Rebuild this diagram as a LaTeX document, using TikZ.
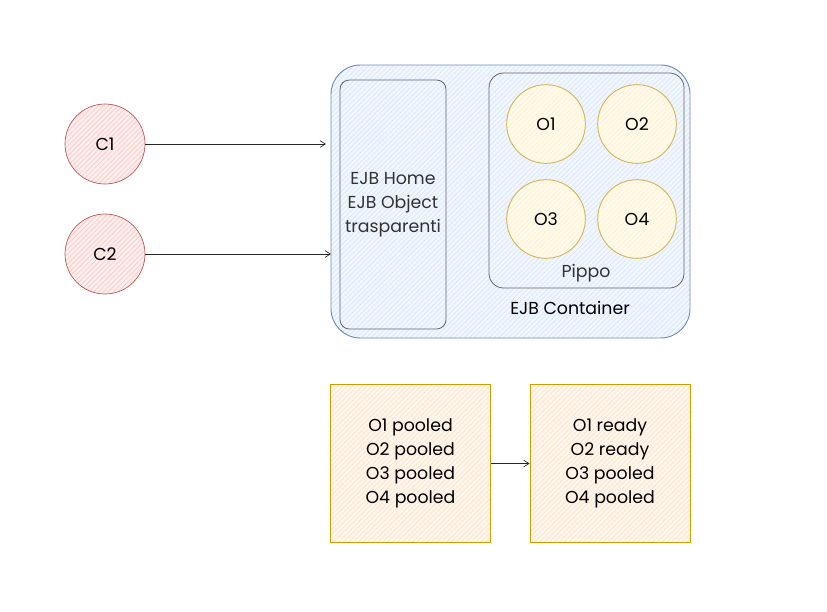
\documentclass[tikz,border=0pt]{standalone}
\usepackage{fontspec}
\setmainfont{Poppins}
\usetikzlibrary{arrows.meta,patterns.meta}
\definecolor{blueS}{HTML}{6C8EBF}
\definecolor{blueF}{HTML}{DAE8FC}
\definecolor{grayS}{HTML}{666666}
\definecolor{redS}{HTML}{B85450}
\definecolor{redF}{HTML}{F8CECC}
\definecolor{yelS}{HTML}{D6B656}
\definecolor{yelF}{HTML}{FFF2CC}
\definecolor{orS}{HTML}{D79B00}
\definecolor{orF}{HTML}{FFE6CC}
\definecolor{txt}{HTML}{333333}
\tikzset{
  every node/.style={font=\fontsize{13}{18}\selectfont},
  hatch/.style={preaction={fill=#1!35}, pattern={Lines[angle=45,distance=2.6pt,line width=0.6pt]}, pattern color=#1},
  client/.style={circle, draw=redS, hatch=redF, minimum size=60pt, inner sep=0pt, line width=0.5pt},
  obj/.style={circle, draw=yelS, hatch=yelF, minimum size=59pt, inner sep=0pt, line width=0.7pt},
  state/.style={draw=orS, hatch=orF, minimum width=120pt, minimum height=119pt, align=center, line width=0.6pt},
  conn/.style={-{Straight Barb[length=4pt,width=5pt]}, line width=0.5pt, black!85},
  lbl/.style={text=txt, align=center}
}
\begin{document}
\begin{tikzpicture}[x=0.75pt,y=-0.75pt]
\useasboundingbox (0,0) rectangle (827,611);
% container
\draw[draw=blueS, hatch=blueF, rounded corners=22pt, line width=0.7pt] (331,65) rectangle (690,338);
\node[lbl, text=black] (cont) at (570,308) {EJB Container};
% EJB home box
\draw[draw=grayS, hatch=blueF, rounded corners=7pt, line width=0.6pt] (340,80) rectangle (446,329);
\node[lbl] (home) at (393,205) {EJB Home\\EJB Object\\trasparenti};
\coordinate (homeA) at (326,144);
\coordinate (homeB) at (331,254);
% Pippo box
\draw[draw=grayS, hatch=blueF, rounded corners=11pt, line width=0.6pt] (489,73) rectangle (684,288);
\node[lbl] (pippo) at (586,273) {Pippo};
% objects
\node[obj] (o1) at (546,124) {O1};
\node[obj] (o2) at (637,124) {O2};
\node[obj] (o3) at (546,219) {O3};
\node[obj] (o4) at (637,219) {O4};
% clients
\node[client] (c1) at (105,144) {C1};
\node[client] (c2) at (105,254) {C2};
\draw[conn] (c1) -- (homeA);
\draw[conn] (c2) -- (homeB);
% states
\node[state] (s1) at (410.5,463.5) {O1 pooled\\O2 pooled\\O3 pooled\\O4 pooled};
\node[state] (s2) at (610,463.5) {O1 ready\\O2 ready\\O3 pooled\\O4 pooled};
\draw[conn] (s1) -- (s2);
\end{tikzpicture}
\end{document}
